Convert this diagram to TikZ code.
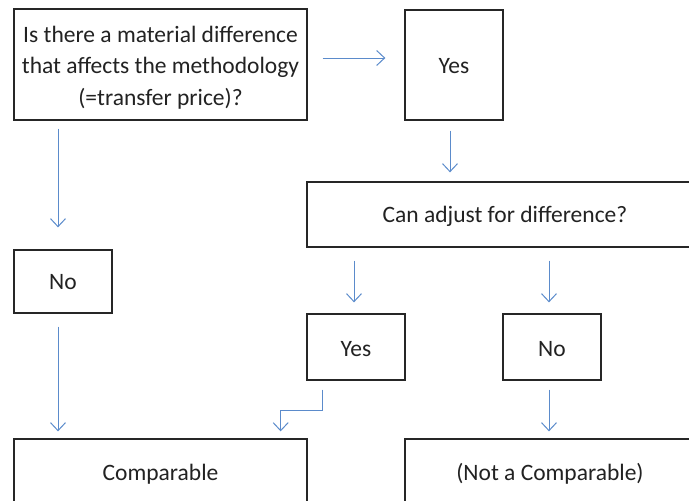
\documentclass[tikz,border=0pt]{standalone}
\usepackage{fontspec}
\setmainfont{Carlito}
\usetikzlibrary{arrows.meta}
\definecolor{arrblue}{HTML}{5B8BCB}
\definecolor{txt}{HTML}{222222}
\begin{document}
\begin{tikzpicture}[x=1pt,y=1pt,
  box/.style={draw=black!85, line width=1.3pt, fill=white, inner sep=0pt},
  lbl/.style={align=center, inner sep=0pt, text=txt, font=\fontsize{23.5}{31.5}\selectfont},
  arr/.style={draw=arrblue, line width=1pt, -{Straight Barb[length=8pt,width=15pt,line width=1pt]}}]
\clip (0,0) rectangle (689,-501);
\useasboundingbox (0,0) rectangle (689,-501);
\node[box, minimum width=293pt, minimum height=111pt] (b1) at (160.5,-64.5) {};
\node[box, minimum width=98pt, minimum height=110pt] (yes1) at (454,-65) {};
\node[box, minimum width=396pt, minimum height=65pt] (adj) at (505,-214.5) {};
\node[box, minimum width=98pt, minimum height=63pt] (no1) at (63,-281.5) {};
\node[box, minimum width=98pt, minimum height=66pt] (yes2) at (356,-347) {};
\node[box, minimum width=98pt, minimum height=66pt] (no2) at (552,-347) {};
\node[box, minimum width=293pt, minimum height=66pt] (comp) at (160.5,-472) {};
\node[box, minimum width=290pt, minimum height=66pt] (notc) at (550,-472) {};
\node[lbl] (b1t) at ([yshift=-3pt]b1.center)
  {Is there a material difference\\that affects the methodology\\(=transfer price)?};
\node[lbl] (yes1t) at ([yshift=-1.5pt]yes1.center) {Yes};
\node[lbl] (adjt) at ([yshift=-2pt]adj.center) {Can adjust for difference?};
\node[lbl] (no1t) at ([yshift=-1pt]no1.center) {No};
\node[lbl] (yes2t) at ([yshift=-2.5pt]yes2.center) {Yes};
\node[lbl] (no2t) at ([yshift=-2pt]no2.center) {No};
\node[lbl] (compt) at ([yshift=-2pt]comp.center) {Comparable};
\node[lbl] (notct) at ([yshift=-2pt]notc.center) {(Not a Comparable)};
\draw[arr, shorten <=15pt, shorten >=19pt] ([yshift=6.5pt]b1.east) -- ([yshift=6.5pt]b1.east -| yes1.west);
\draw[arr, shorten <=10pt, shorten >=9pt] ([xshift=-4pt]yes1.south) -- ([xshift=-4pt]yes1.south |- adj.north);
\draw[arr, shorten <=8pt, shorten >=22pt] ([xshift=-5pt]no1.north |- b1.south) -- ([xshift=-5pt]no1.north);
\draw[arr, shorten <=13pt, shorten >=7pt] ([xshift=-5pt]no1.south) -- ([xshift=-5pt]no1.south |- comp.north);
\draw[arr, shorten <=13pt, shorten >=11pt] ([xshift=-2pt]yes2.north |- adj.south) -- ([xshift=-2pt]yes2.north);
\draw[arr, shorten <=13pt, shorten >=11pt] ([xshift=-3pt]no2.north |- adj.south) -- ([xshift=-3pt]no2.north);
\draw[arr, shorten <=9pt, shorten >=7pt] ([xshift=-34pt]yes2.south) -- ++(0,-30pt) -| ([xshift=-27pt]comp.north east);
\draw[arr, shorten <=9pt, shorten >=7pt] ([xshift=-3pt]no2.south) -- ([xshift=-3pt]no2.south |- notc.north);
\end{tikzpicture}
\end{document}
